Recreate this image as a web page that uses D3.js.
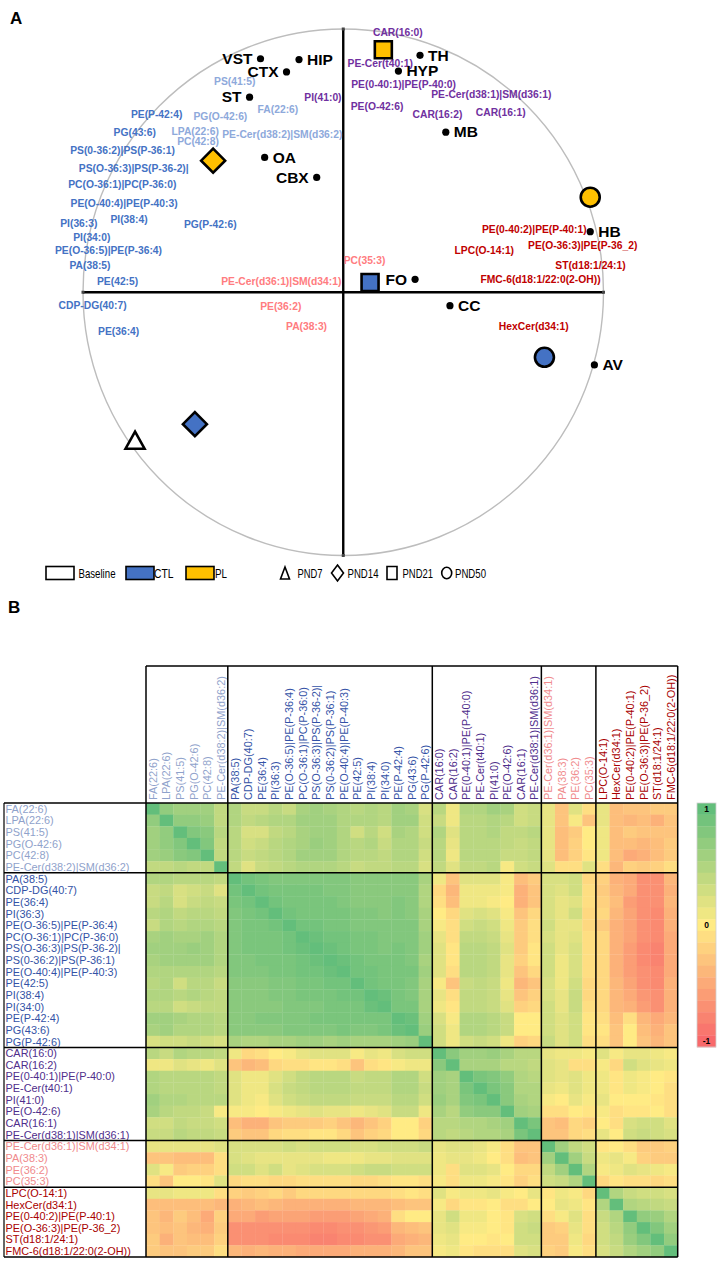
<!DOCTYPE html>
<html>
<head>
<meta charset="utf-8">
<script src="https://cdn.jsdelivr.net/npm/d3@7"></script>
<style>
  body { margin: 0; background: #fff; }
  svg { display: block; font-family: "Liberation Sans", Arial, sans-serif; }
</style>
</head>
<body>
<div id="chart"></div>
<script>
// ---------- panel A : biplot ----------
var regionNames = ["VST", "HIP", "CTX", "ST", "OA", "CBX", "TH", "HYP", "MB", "HB", "FO", "CC", "AV"];
var regionX = [-0.318, -0.170, -0.218, -0.360, -0.302, -0.102, 0.295, 0.212, 0.394, 0.949, 0.276, 0.410, 0.965];
var regionY = [0.887, 0.884, 0.837, 0.741, 0.512, 0.436, 0.900, 0.840, 0.608, 0.230, 0.049, -0.051, -0.276];
var labelLeft = ["VST", "CTX", "ST", "CBX", "FO"];

var scoreGroup = ["Baseline", "CTL", "CTL", "CTL", "PL", "PL", "PL"];
var scoreTime = ["PND7", "PND14", "PND21", "PND50", "PND14", "PND21", "PND50"];
var scoreX = [-0.800, -0.570, 0.103, 0.773, -0.500, 0.154, 0.949];
var scoreY = [-0.562, -0.501, 0.037, -0.247, 0.500, 0.921, 0.361];

var treatments = ["Baseline", "CTL", "PL"];
var timepoints = ["PND7", "PND14", "PND21", "PND50"];

// lipids, in heatmap order
var lipids = [
  "FA(22:6)", "LPA(22:6)", "PS(41:5)", "PG(O-42:6)", "PC(42:8)", "PE-Cer(d38:2)|SM(d36:2)",
  "PA(38:5)", "CDP-DG(40:7)", "PE(36:4)", "PI(36:3)", "PE(O-36:5)|PE(P-36:4)", "PC(O-36:1)|PC(P-36:0)",
  "PS(O-36:3)|PS(P-36-2)|", "PS(0-36:2)|PS(P-36:1)", "PE(O-40:4)|PE(P-40:3)", "PE(42:5)", "PI(38:4)",
  "PI(34:0)", "PE(P-42:4)", "PG(43:6)", "PG(P-42:6)",
  "CAR(16:0)", "CAR(16:2)", "PE(0-40:1)|PE(P-40:0)", "PE-Cer(t40:1)", "PI(41:0)", "PE(O-42:6)",
  "CAR(16:1)", "PE-Cer(d38:1)|SM(d36:1)",
  "PE-Cer(d36:1)|SM(d34:1)", "PA(38:3)", "PE(36:2)", "PC(35:3)",
  "LPC(O-14:1)", "HexCer(d34:1)", "PE(0-40:2)|PE(P-40:1)", "PE(O-36:3)|PE(P-36_2)", "ST(d18:1/24:1)",
  "FMC-6(d18:1/22:0(2-OH))"
];
var groupSizes = [6, 15, 8, 4, 6];

// loading label positions (same order as lipids)
var loadX = [-0.251, -0.569, -0.417, -0.472, -0.558, -0.234,
  -0.973, -0.963, -0.863, -1.016, -0.902, -0.849, -0.805, -0.848, -0.842, -0.867, -0.823, -0.966, -0.717, -0.801, -0.511,
  0.210, 0.362, 0.232, 0.142, -0.078, 0.130, 0.605, 0.569,
  -0.238, -0.141, -0.240, 0.082,
  0.542, 0.732, 0.734, 0.920, 0.950, 0.758];
var loadY = [0.693, 0.611, 0.801, 0.668, 0.573, 0.598,
  0.101, -0.051, -0.147, 0.262, 0.158, 0.411, 0.471, 0.537, 0.338, 0.040, 0.278, 0.209, 0.674, 0.608, 0.259,
  0.987, 0.677, 0.789, 0.871, 0.740, 0.706, 0.683, 0.753,
  0.043, -0.131, -0.055, 0.120,
  0.158, -0.131, 0.237, 0.177, 0.101, 0.047];

// ---------- panel B : correlation matrix (lower triangle, row i = cols 0..i) ----------
var corrLower = [
  [1],
  [.7, 1],
  [.6, .7, 1],
  [.6, .7, .8, 1],
  [.6, .65, .75, .8, 1],
  [.4, .4, .45, .4, .4, 1],
  [.5, .5, .45, .45, .45, .4, 1],
  [.35, .4, .25, .3, .35, .2, .9, 1],
  [.35, .45, .25, .35, .4, .35, .85, .9, 1],
  [.45, .5, .4, .45, .45, .4, .8, .85, .9, 1],
  [.35, .5, .45, .5, .5, .45, .8, .85, .85, .9, 1],
  [.55, .6, .55, .55, .6, .5, .8, .85, .85, .85, .9, 1],
  [.6, .6, .6, .65, .6, .5, .8, .85, .85, .85, .9, .95, 1],
  [.55, .6, .6, .6, .6, .5, .8, .8, .85, .85, .85, .9, .95, 1],
  [.5, .5, .5, .5, .5, .45, .8, .8, .8, .85, .85, .9, .9, .95, 1],
  [.45, .5, .3, .45, .45, .35, .75, .75, .75, .8, .8, .85, .85, .9, .9, 1],
  [.5, .5, .45, .5, .45, .4, .75, .75, .75, .8, .8, .85, .85, .85, .9, .9, 1],
  [.45, .45, .3, .35, .4, .4, .75, .75, .75, .75, .8, .8, .8, .85, .85, .85, .95, 1],
  [.6, .6, .55, .5, .5, .45, .75, .75, .8, .8, .8, .8, .85, .85, .85, .85, .85, .85, 1],
  [.55, .6, .5, .5, .5, .45, .75, .75, .75, .75, .8, .8, .8, .8, .85, .8, .8, .85, .95, 1],
  [.25, .3, .3, .35, .3, .25, .55, .5, .5, .55, .55, .6, .6, .55, .6, .55, .55, .55, .6, .65, 1],
  [.45, .35, .5, .45, .45, .4, .1, -.15, -.1, 0, .05, .15, .2, .2, .2, .05, .15, .1, .25, .3, .3, 1],
  [.1, .1, .2, .15, .1, .2, -.3, -.4, -.35, -.15, -.1, -.1, -.05, -.05, -.1, -.3, -.1, -.05, .05, .1, .1, .75, 1],
  [.5, .45, .45, .45, .45, .4, .2, .1, .1, .2, .3, .4, .45, .45, .45, .35, .4, .4, .5, .5, .3, .6, .55, 1],
  [.5, .45, .45, .45, .45, .4, .2, .1, .1, .25, .35, .4, .45, .45, .45, .4, .4, .4, .5, .5, .35, .6, .55, .85, 1],
  [.6, .5, .5, .45, .45, .45, .2, .1, .05, .2, .3, .35, .4, .4, .4, .35, .35, .35, .45, .45, .3, .65, .55, .8, .85, 1],
  [.55, .45, .4, .4, .35, .05, .05, .05, 0, .05, .1, .15, .2, .15, .15, .1, .15, .2, .35, .35, .1, .55, .45, .7, .75, .75, 1],
  [.3, .3, .4, .35, .35, .3, -.35, -.45, -.45, -.3, -.25, -.25, -.25, -.2, -.3, -.4, -.3, -.2, 0, 0, -.2, .45, .45, .5, .5, .55, .6, 1],
  [.35, .35, .45, .4, .4, .35, -.25, -.3, -.3, -.15, -.1, -.1, -.05, -.05, -.15, -.3, -.2, -.15, 0, 0, -.15, .45, .4, .45, .5, .5, .55, .85, 1],
  [.15, .15, .15, .15, .15, .2, .25, .25, .25, .25, .3, .25, .3, .3, .3, .25, .25, .3, .3, .3, .35, .15, .2, .2, .15, .05, -.1, -.3, -.3, 1],
  [-.3, -.3, -.35, -.35, -.35, -.1, .25, .2, .15, .15, .15, .15, .15, .1, .1, .1, .15, .15, .2, .2, .2, .1, .15, .15, .1, 0, -.1, -.35, -.3, .6, 1],
  [.2, .05, -.25, -.2, -.2, -.1, .3, .3, .2, .3, .15, .2, .25, .25, .25, .3, .35, .35, .3, .3, .3, .1, -.1, .2, .2, .15, 0, -.15, -.15, .4, .6, 1],
  [-.1, -.3, 0, 0, -.05, .2, -.15, -.1, -.1, -.15, -.15, -.1, -.1, -.1, -.1, -.15, -.15, -.1, -.05, -.05, -.1, .05, -.1, .1, .1, .05, -.05, -.2, -.1, .3, .35, .5, 1],
  [.15, .15, .1, .1, .1, -.1, -.2, -.25, -.2, -.15, -.25, -.15, -.15, -.15, -.15, -.15, -.15, -.15, -.1, -.05, -.1, .2, .05, .1, .1, .15, .05, 0, .15, -.05, .1, .05, -.15, 1],
  [-.35, -.35, -.35, -.35, -.35, -.4, -.45, -.4, -.35, -.4, -.45, -.45, -.45, -.45, -.45, -.4, -.4, -.4, -.35, -.3, -.3, .05, -.15, -.05, -.05, 0, -.1, -.1, 0, 0, .15, .1, -.05, .5, 1],
  [-.3, -.4, -.25, -.35, -.5, -.2, -.5, -.5, -.6, -.55, -.55, -.55, -.6, -.6, -.6, -.55, -.5, -.45, -.1, 0, 0, .15, .3, .1, .1, 0, -.05, .25, .3, -.1, .05, .2, -.1, .35, .5, 1],
  [-.3, -.35, -.3, -.4, -.45, -.25, -.7, -.7, -.7, -.7, -.7, -.7, -.75, -.75, -.7, -.7, -.65, -.6, -.4, -.35, -.3, .15, .2, .05, .05, 0, -.05, .3, .35, -.25, -.2, .15, -.1, .3, .45, .7, 1],
  [-.25, -.45, -.3, -.35, -.35, -.2, -.7, -.7, -.7, -.75, -.75, -.75, -.8, -.8, -.75, -.75, -.7, -.7, -.5, -.45, -.4, .1, .15, 0, 0, -.05, 0, .3, .3, -.25, -.25, .1, -.15, .3, .4, .65, .8, 1],
  [-.25, -.3, -.3, -.25, -.25, -.1, -.4, -.45, -.4, -.45, -.45, -.5, -.5, -.5, -.5, -.45, -.45, -.45, -.4, -.3, -.3, .05, .1, -.05, -.1, -.1, -.1, .2, .25, -.2, -.25, .05, -.1, .25, .35, .5, .6, .7, 1]
];
var colorTicks = ["1", "0", "-1"];

// ---------- layout / styles ----------
var W = 723, H = 1267;
var textColA = ["#8EA9DB", "#4472C4", "#7030A0", "#FF7C80", "#C00000"];
var textColB = ["#8FA2CB", "#3352A6", "#4F2E8C", "#F08A8C", "#A80000"];
var fillOf = { "Baseline": "#ffffff", "CTL": "#4472C4", "PL": "#FFC000" };

var groupOf = [];
groupSizes.forEach(function (n, g) { for (var k = 0; k < n; k++) groupOf.push(g); });

var svg = d3.select("#chart").append("svg")
  .attr("width", W).attr("height", H);

svg.append("text").attr("x", 10).attr("y", 24)
  .attr("font-size", 17).attr("font-weight", "bold").text("A");
svg.append("text").attr("x", 8).attr("y", 613)
  .attr("font-size", 17).attr("font-weight", "bold").text("B");

// scales for the biplot
var x = d3.scaleLinear().domain([-1, 1]).range([83, 603.5]);
var y = d3.scaleLinear().domain([-1, 1]).range([555.5, 29]);

var gA = svg.append("g");
gA.append("ellipse")
  .attr("cx", x(0)).attr("cy", y(0))
  .attr("rx", x(1) - x(0)).attr("ry", y(-1) - y(0))
  .attr("fill", "none").attr("stroke", "#BDBDBD").attr("stroke-width", 1.4);

gA.append("line").attr("x1", x(-1)).attr("x2", x(1)).attr("y1", y(0)).attr("y2", y(0))
  .attr("stroke", "#000").attr("stroke-width", 2.4);
gA.append("line").attr("x1", x(0)).attr("x2", x(0)).attr("y1", y(1)).attr("y2", y(-1))
  .attr("stroke", "#000").attr("stroke-width", 2.4);
[[-1, 0], [1, 0], [0, 1], [0, -1]].forEach(function (p) {
  gA.append("rect").attr("x", x(p[0]) - 1.5).attr("y", y(p[1]) - 1.5)
    .attr("width", 3).attr("height", 3).attr("fill", "#444");
});

// lipid loading labels
gA.selectAll("text.lip").data(lipids).enter().append("text")
  .attr("class", "lip")
  .attr("x", function (d, i) { return x(loadX[i]); })
  .attr("y", function (d, i) { return y(loadY[i]); })
  .attr("dy", "0.35em")
  .attr("text-anchor", "middle")
  .attr("font-size", 10.3).attr("font-weight", "bold")
  .attr("fill", function (d, i) { return textColA[groupOf[i]]; })
  .text(function (d) { return d; });

// brain regions
var regions = regionNames.map(function (n, i) { return { name: n, x: regionX[i], y: regionY[i] }; });
gA.selectAll("circle.reg").data(regions).enter().append("circle")
  .attr("class", "reg")
  .attr("cx", function (d) { return x(d.x); })
  .attr("cy", function (d) { return y(d.y); })
  .attr("r", 3.6).attr("fill", "#000");
gA.selectAll("text.reg").data(regions).enter().append("text")
  .attr("class", "reg")
  .attr("x", function (d) { return x(d.x) + (labelLeft.indexOf(d.name) >= 0 ? -8 : 8); })
  .attr("y", function (d) { return y(d.y); })
  .attr("dy", "0.34em")
  .attr("text-anchor", function (d) { return labelLeft.indexOf(d.name) >= 0 ? "end" : "start"; })
  .attr("font-size", 15.5).attr("font-weight", "bold").attr("fill", "#000")
  .text(function (d) { return d.name; });

// group scores
function shapePath(t, w, h) {
  if (t === "PND7") return "M0," + (-h / 2) + "L" + (w / 2) + "," + (h / 2) + "L" + (-w / 2) + "," + (h / 2) + "Z";
  if (t === "PND14") return "M0," + (-h / 2) + "L" + (w / 2) + ",0L0," + (h / 2) + "L" + (-w / 2) + ",0Z";
  if (t === "PND21") return "M" + (-w / 2) + "," + (-h / 2) + "h" + w + "v" + h + "h" + (-w) + "Z";
  return "M" + (-w / 2) + ",0a" + (w / 2) + "," + (h / 2) + " 0 1,0 " + w + ",0a" + (w / 2) + "," + (h / 2) + " 0 1,0 " + (-w) + ",0Z";
}
var shapeSize = { "PND7": [19, 17], "PND14": [24, 24], "PND21": [17, 17], "PND50": [19, 19] };
var scores = scoreGroup.map(function (g, i) { return { group: g, time: scoreTime[i], x: scoreX[i], y: scoreY[i] }; });
gA.selectAll("path.score").data(scores).enter().append("path")
  .attr("class", "score")
  .attr("transform", function (d) { return "translate(" + x(d.x) + "," + y(d.y) + ")"; })
  .attr("d", function (d) { return shapePath(d.time, shapeSize[d.time][0], shapeSize[d.time][1]); })
  .attr("fill", function (d) { return fillOf[d.group]; })
  .attr("stroke", "#000").attr("stroke-width", 2.6).attr("stroke-linejoin", "miter");

// legend (condensed text, fitted to the widths of the original)
var legY = 573;
var legTreatX = [46, 126, 186];
var legTreatText = [78.5, 154, 215];
var legTreatLen = [37, 19.5, 12];
treatments.forEach(function (t, i) {
  svg.append("rect").attr("x", legTreatX[i]).attr("y", legY - 6.5).attr("width", 28).attr("height", 13)
    .attr("fill", fillOf[t]).attr("stroke", "#000").attr("stroke-width", 1.6);
  svg.append("text").attr("x", legTreatText[i]).attr("y", legY).attr("dy", "0.36em")
    .attr("font-size", 13).attr("textLength", legTreatLen[i]).attr("lengthAdjust", "spacingAndGlyphs")
    .text(t);
});
var legTimeX = [285, 337.5, 392, 446.7];
var legTimeText = [297.5, 347.5, 402.5, 455];
var legTimeLen = [25, 31, 30.5, 31];
var legShape = { "PND7": [9, 12], "PND14": [12, 16], "PND21": [10, 13], "PND50": [10, 11.5] };
timepoints.forEach(function (t, i) {
  svg.append("path").attr("transform", "translate(" + legTimeX[i] + "," + legY + ")")
    .attr("d", shapePath(t, legShape[t][0], legShape[t][1]))
    .attr("fill", "#fff").attr("stroke", "#000").attr("stroke-width", 1.6);
  svg.append("text").attr("x", legTimeText[i]).attr("y", legY).attr("dy", "0.36em")
    .attr("font-size", 13).attr("textLength", legTimeLen[i]).attr("lengthAdjust", "spacingAndGlyphs")
    .text(t);
});

// ---------- panel B : heatmap ----------
var corr = lipids.map(function (a, i) {
  return lipids.map(function (b, j) { return j <= i ? corrLower[i][j] : corrLower[j][i]; });
});
var cells = [];
corr.forEach(function (row, i) { row.forEach(function (v, j) { cells.push({ r: i, c: j, v: v }); }); });

var color = d3.scaleLinear().domain([-1, 0, 1]).range(["#F8696B", "#FFEB84", "#63BE7B"]);
var xb = d3.scaleBand().domain(lipids).range([146, 677.7]);
var yb = d3.scaleBand().domain(lipids).range([803, 1257]);

var gB = svg.append("g");
gB.selectAll("rect.cell").data(cells).enter().append("rect")
  .attr("class", "cell")
  .attr("x", function (d) { return xb(lipids[d.c]); })
  .attr("y", function (d) { return yb(lipids[d.r]); })
  .attr("width", xb.bandwidth() + 0.3)
  .attr("height", yb.bandwidth() + 0.3)
  .attr("fill", function (d) { return color(d.v); });

// row labels
gB.selectAll("text.row").data(lipids).enter().append("text")
  .attr("class", "row")
  .attr("x", 5.5)
  .attr("y", function (d) { return yb(d) + yb.bandwidth() / 2; })
  .attr("dy", "0.36em")
  .attr("font-size", 10.9)
  .attr("fill", function (d, i) { return textColB[groupOf[i]]; })
  .text(function (d) { return d; });

// column labels
gB.selectAll("text.col").data(lipids).enter().append("text")
  .attr("class", "col")
  .attr("transform", function (d) { return "translate(" + (xb(d) + xb.bandwidth() / 2) + ",800) rotate(-90)"; })
  .attr("dy", "0.36em")
  .attr("font-size", 10.9)
  .attr("fill", function (d, i) { return textColB[groupOf[i]]; })
  .text(function (d) { return d; });

// group borders
var bounds = [0];
groupSizes.forEach(function (n) { bounds.push(bounds[bounds.length - 1] + n); });
function bx(k) { return k < lipids.length ? xb(lipids[k]) : xb.range()[1]; }
function by(k) { return k < lipids.length ? yb(lipids[k]) : yb.range()[1]; }
bounds.forEach(function (k) {
  gB.append("line").attr("x1", bx(k)).attr("x2", bx(k)).attr("y1", 666).attr("y2", by(lipids.length))
    .attr("stroke", "#000").attr("stroke-width", 1.5);
  gB.append("line").attr("x1", 4).attr("x2", bx(lipids.length)).attr("y1", by(k)).attr("y2", by(k))
    .attr("stroke", "#000").attr("stroke-width", 1.5);
});
gB.append("line").attr("x1", bx(0)).attr("x2", bx(lipids.length)).attr("y1", 666).attr("y2", 666)
  .attr("stroke", "#000").attr("stroke-width", 1.5);
gB.append("line").attr("x1", 4).attr("x2", 4).attr("y1", by(0)).attr("y2", by(lipids.length))
  .attr("stroke", "#000").attr("stroke-width", 1.2);

// colour bar
var steps = d3.range(21).map(function (k) { return 1 - k * 0.1; });
var cb = d3.scaleBand().domain(steps).range([803, 1047]);
var gC = svg.append("g");
gC.selectAll("rect").data(steps).enter().append("rect")
  .attr("x", 697).attr("y", function (d) { return cb(d); })
  .attr("width", 19).attr("height", cb.bandwidth() + 0.3)
  .attr("fill", function (d) { return color(d); });
gC.append("rect").attr("x", 697).attr("y", 803).attr("width", 19).attr("height", 244)
  .attr("fill", "none").attr("stroke", "#d0d0d0").attr("stroke-width", 0.8);
var tickVals = colorTicks.map(Number);
gC.selectAll("text").data(colorTicks).enter().append("text")
  .attr("x", 706.5)
  .attr("y", function (d, i) { return cb(steps[Math.round((1 - tickVals[i]) * 10)]) + cb.bandwidth() / 2; })
  .attr("dy", "0.36em").attr("text-anchor", "middle")
  .attr("font-size", 8.5).attr("font-weight", "bold").attr("fill", "#000")
  .text(function (d) { return d; });
</script>
</body>
</html>
